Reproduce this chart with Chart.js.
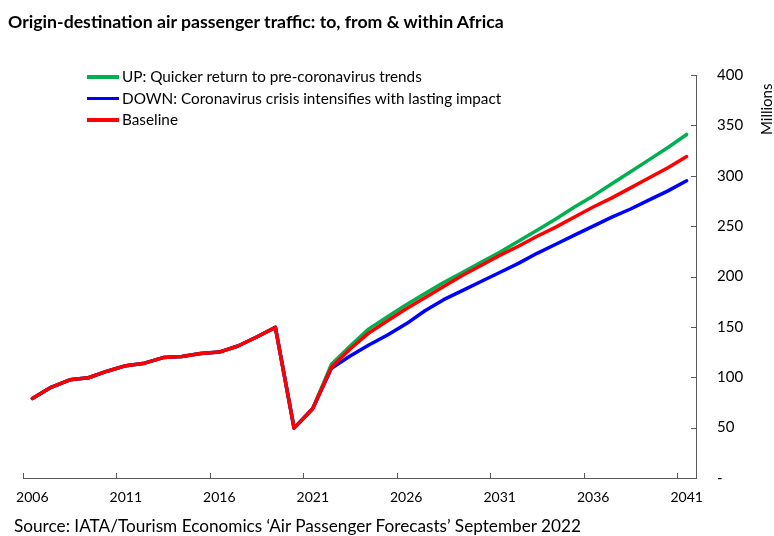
<!DOCTYPE html>
<html>
<head>
<meta charset="utf-8">
<script src="https://cdn.jsdelivr.net/npm/chart.js@4.4.1/dist/chart.umd.min.js"></script>
<style>
  html, body { margin: 0; padding: 0; background: #fff; }
  body { width: 774px; height: 536px; position: relative; overflow: hidden; font-family: Lato, "Open Sans", sans-serif; color: #000; }
  #wrap { position: absolute; left: 0; top: 0; width: 774px; height: 536px; }
  .title { position: absolute; left: 8px; top: 11px; font-size: 17.7px; font-weight: bold; white-space: nowrap; }
  .legend { position: absolute; left: 87px; top: 66px; font-size: 15.3px; }
  .legend div { height: 21.5px; line-height: 21.5px; white-space: nowrap; }
  .legend span.sw { display: inline-block; width: 32px; height: 3.5px; vertical-align: middle; margin-right: 3px; position: relative; top: -1px; }
  .unit { position: absolute; left: 757px; top: 80px; font-size: 15px; transform-origin: 0 0; transform: translate(0, 55px) rotate(-90deg); white-space: nowrap; }
  .source { position: absolute; left: 14px; top: 515px; font-size: 17.2px; white-space: nowrap; }
</style>
</head>
<body>
<div id="wrap"><canvas id="chart" width="774" height="536"></canvas></div>
<div class="title">Origin-destination air passenger traffic: to, from &amp; within Africa</div>
<div class="legend" id="legend"></div>
<div class="unit">Millions</div>
<div class="source">Source: IATA/Tourism Economics ‘Air Passenger Forecasts’ September 2022</div>
<script>
// Categories (years)
const years = [
  "2006", "2007", "2008", "2009", "2010", "2011", "2012", "2013", "2014", "2015", "2016", "2017",
  "2018", "2019", "2020", "2021", "2022", "2023", "2024", "2025", "2026", "2027", "2028", "2029",
  "2030", "2031", "2032", "2033", "2034", "2035", "2036", "2037", "2038", "2039", "2040", "2041",
]

// Actual traffic 2006-2021 (millions)
const history = [79, 90, 97.5, 99.5, 106, 111.5, 114, 119.5, 120.5, 123.5, 125, 131, 140, 149.5, 49.5, 69]

// Scenario forecasts 2022-2041 (millions)
const upForecast = [113, 131, 148, 160, 172, 183, 194, 204, 214, 224, 235, 246, 257, 269, 280, 292, 304, 316, 328, 341]
const downForecast = [109, 121, 132, 142, 153, 166, 177, 186, 195, 204, 213, 223, 232, 241, 250, 259, 267, 276, 285, 295]
const baseForecast = [110, 128, 144, 156, 168, 179, 190, 201, 211, 221, 230, 240, 249, 259, 269, 278, 288, 298, 308, 319]

// Right axis ticks
const yTicks = [0, 50, 100, 150, 200, 250, 300, 350, 400]

const series = [
  { label: "UP: Quicker return to pre-coronavirus trends", color: "#00B050", data: history.concat(upForecast), order: 2 },
  { label: "DOWN: Coronavirus crisis intensifies with lasting impact", color: "#0000FF", data: history.concat(downForecast), order: 1 },
  { label: "Baseline", color: "#FF0000", data: history.concat(baseForecast), order: 0 },
]

// Legend (html)
const legendEl = document.getElementById("legend")
series.forEach((s) => {
  const row = document.createElement("div")
  row.innerHTML = `<span class="sw" style="background:${s.color}"></span>${s.label}`
  legendEl.appendChild(row)
})

const axisColor = "#595959"

// Excel style tick marks that point into the plot
const innerTicks = {
  id: "innerTicks",
  afterDraw(chart) {
    const ctx = chart.ctx
    const x = chart.scales.x
    const y = chart.scales.y
    const area = chart.chartArea
    ctx.save()
    ctx.strokeStyle = axisColor
    ctx.lineWidth = 1
    const half = (x.getPixelForValue(1) - x.getPixelForValue(0)) / 2
    ctx.beginPath()
    for (let i = 0; i <= years.length; i += 5) {
      const px = Math.round(x.getPixelForValue(i) - half) + 0.5
      ctx.moveTo(px, area.bottom)
      ctx.lineTo(px, area.bottom - 5)
    }
    yTicks.forEach((v) => {
      const py = Math.round(y.getPixelForValue(v)) + 0.5
      ctx.moveTo(area.right, py)
      ctx.lineTo(area.right - 5, py)
    })
    ctx.stroke()
    ctx.restore()
  },
}

new Chart(document.getElementById("chart"), {
  type: "line",
  data: {
    labels: years,
    datasets: series.map((s) => ({
      label: s.label,
      data: s.data,
      borderColor: s.color,
      backgroundColor: s.color,
      borderWidth: 3.5,
      pointRadius: 0,
      tension: 0,
      order: s.order,
      borderJoinStyle: "round",
      borderCapStyle: "round",
    })),
  },
  options: {
    responsive: false,
    animation: false,
    layout: { padding: { left: 23, top: 75, right: 0, bottom: 0 } },
    plugins: {
      legend: { display: false },
      title: { display: false },
      tooltip: { enabled: false },
    },
    scales: {
      x: {
        type: "category",
        offset: true,
        grid: { display: false, drawTicks: false },
        border: { display: true, color: axisColor, width: 1 },
        ticks: {
          autoSkip: false,
          maxRotation: 0,
          padding: 11,
          color: "#000",
          font: { family: "Lato", size: 14 },
          callback: (v, i) => (i % 5 === 0 ? years[i] : ""),
        },
        afterFit: (scale) => { scale.height = 58 },
      },
      y: {
        position: "right",
        min: 0,
        max: 400,
        grid: { display: false, drawTicks: false },
        border: { display: true, color: axisColor, width: 1 },
        afterBuildTicks: (scale) => { scale.ticks = yTicks.map((v) => ({ value: v })) },
        ticks: {
          padding: 21,
          color: "#000",
          font: { family: "Lato", size: 15 },
          callback: (v) => (v === 0 ? "-" : v),
        },
        afterFit: (scale) => { scale.width = 78 },
      },
    },
  },
  plugins: [innerTicks],
})
</script>
</body>
</html>
